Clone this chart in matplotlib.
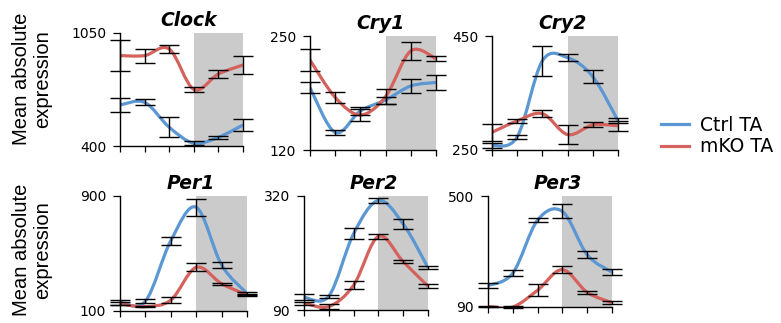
import matplotlib.pyplot as plt
from matplotlib.path import Path
from matplotlib.patches import PathPatch
from matplotlib.lines import Line2D

plt.rcParams['font.family'] = ['DejaVu Sans']

CTRL_COLOR = '#5b97d3'
MKO_COLOR = '#d5625c'
DARK_COLOR = '#cbcbcb'

timepoints = [0, 1, 2, 3, 4, 5]

clock_ctrl = [636, 651, 508, 416, 450, 521]
clock_ctrl_sd = [40, 17, 57, 10, 8, 36]
clock_mko = [920, 920, 958, 726, 814, 866]
clock_mko_sd = [91, 40, 21, 16, 22, 50]

cry1_ctrl = [191, 140, 164.5, 177, 193, 197]
cry1_ctrl_sd = [6.3, 3, 5, 4, 8.5, 8.5]
cry1_mko = [222.6, 180, 160, 181, 233, 224]
cry1_mko_sd = [12.5, 6.3, 7, 8, 10, 3]

cry2_ctrl = [257.5, 273, 406.5, 412, 378.6, 301.4]
cry2_ctrl_sd = [4, 4, 26, 6, 11.7, 4]
cry2_mko = [281, 301, 313.7, 277, 294, 292.6]
cry2_mko_sd = [14.6, 3, 6.4, 16.7, 4.4, 8.8]

per1_ctrl = [160, 168, 589, 822, 420, 222]
per1_ctrl_sd = [18, 15, 29, 60, 23, 8]
per1_mko = [150, 130, 176, 404, 290, 211]
per1_mko_sd = [10, 5, 23, 29, 8, 8]

per2_ctrl = [115.6, 118, 244, 311, 263.5, 175.4]
per2_ctrl_sd = [5.7, 3, 10.8, 5.7, 10, 2.4]
per2_mko = [104, 97, 140, 238.6, 187.5, 138]
per2_mko_sd = [3, 4.4, 8.4, 5, 3, 4.4]

per3_ctrl = [169, 215, 411, 443, 283, 218.5]
per3_ctrl_sd = [10.5, 11, 8, 26, 13.6, 11.7]
per3_mko = [92, 90, 152, 228, 144, 106]
per3_mko_sd = [3, 3, 21.6, 12, 5, 6]

# gene, y-limits, ctrl, ctrl sd, mko, mko sd, axes box in pixels (left, top, right, bottom)
panels = [
    ('Clock', (400, 1050), clock_ctrl, clock_ctrl_sd, clock_mko, clock_mko_sd, (120, 33, 243, 146)),
    ('Cry1', (120, 250), cry1_ctrl, cry1_ctrl_sd, cry1_mko, cry1_mko_sd, (310, 36, 436, 150)),
    ('Cry2', (250, 450), cry2_ctrl, cry2_ctrl_sd, cry2_mko, cry2_mko_sd, (492, 36, 618, 150)),
    ('Per1', (100, 900), per1_ctrl, per1_ctrl_sd, per1_mko, per1_mko_sd, (120, 196, 247, 311)),
    ('Per2', (90, 320), per2_ctrl, per2_ctrl_sd, per2_mko, per2_mko_sd, (304, 196, 428, 310)),
    ('Per3', (90, 500), per3_ctrl, per3_ctrl_sd, per3_mko, per3_mko_sd, (488, 196, 612, 307)),
]

W, H = 781, 323


def smooth_path(x, y):
    # Catmull-Rom style bezier through the points (like a "smoothed line")
    pts = list(zip(x, y))
    verts = [pts[0]]
    codes = [Path.MOVETO]
    n = len(pts)
    for i in range(n - 1):
        p0 = pts[i - 1] if i > 0 else pts[i]
        p1 = pts[i]
        p2 = pts[i + 1]
        p3 = pts[i + 2] if i + 2 < n else pts[i + 1]
        c1 = (p1[0] + (p2[0] - p0[0]) / 6, p1[1] + (p2[1] - p0[1]) / 6)
        c2 = (p2[0] - (p3[0] - p1[0]) / 6, p2[1] - (p3[1] - p1[1]) / 6)
        verts += [c1, c2, p2]
        codes += [Path.CURVE4] * 3
    return Path(verts, codes)


fig = plt.figure(figsize=(W / 100, H / 100), dpi=100)

for gene, ylim, ctrl, ctrl_sd, mko, mko_sd, box in panels:
    l, t, r, b = box
    ax = fig.add_axes([l / W, 1 - b / H, (r - l) / W, (b - t) / H])
    ax.set_xlim(0, 5)
    ax.set_ylim(*ylim)
    ax.axvspan(3, 5, color=DARK_COLOR, lw=0, zorder=0)

    for mean, sd, col in [(ctrl, ctrl_sd, CTRL_COLOR), (mko, mko_sd, MKO_COLOR)]:
        ax.add_patch(PathPatch(smooth_path(timepoints, mean), facecolor='none',
                               edgecolor=col, lw=2.3, zorder=2))
        eb = ax.errorbar(timepoints, mean, yerr=sd, fmt='none', ecolor='black',
                         elinewidth=1.0, capsize=7.5, capthick=1.0, zorder=3)
        for art in list(eb.lines[1]) + list(eb.lines[2]):
            art.set_clip_on(False)

    for side in ['top', 'right']:
        ax.spines[side].set_visible(False)
    for side in ['left', 'bottom']:
        ax.spines[side].set_linewidth(1.0)
    ax.set_xticks(timepoints)
    ax.set_xticklabels([])
    ax.set_yticks(list(ylim))
    ax.set_yticklabels([str(v) for v in ylim], fontsize=10)
    ax.tick_params(axis='x', length=4, width=0.9)
    ax.tick_params(axis='y', length=5, width=0.9, pad=5)
    ax.set_title(gene, x=0.56, pad=5, fontsize=13.5, fontweight='bold',
                 fontstyle='italic')

for yc in [79, 250]:
    fig.text(32 / W, 1 - yc / H, 'Mean absolute\nexpression', rotation=90,
             ha='center', va='center', multialignment='center',
             fontsize=14.5, family='Liberation Sans', linespacing=1.12)

handles = [Line2D([], [], color=CTRL_COLOR, lw=2.3),
           Line2D([], [], color=MKO_COLOR, lw=2.3)]
fig.legend(handles, ['Ctrl TA', 'mKO TA'], loc='center left',
           bbox_to_anchor=(661 / W, 1 - 136 / H), frameon=False,
           fontsize=13.5, handlelength=1.5, handletextpad=0.6,
           labelspacing=0.15, borderpad=0, borderaxespad=0)

fig.savefig('out.png', dpi=100)
